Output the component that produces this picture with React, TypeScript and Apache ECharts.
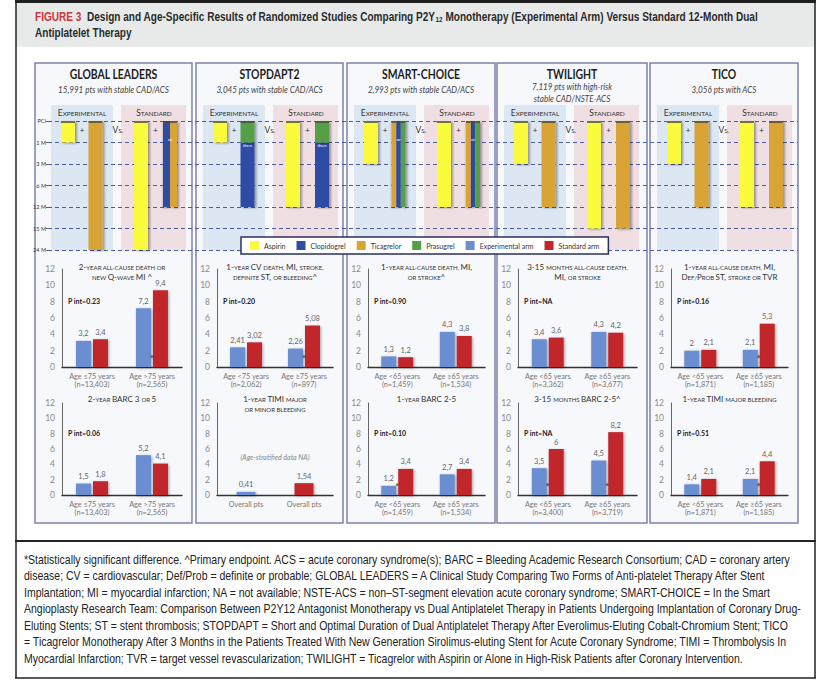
import React, { useEffect, useRef } from "react";
import * as echarts from "echarts";

// ---------------- DATA ----------------
const durations = ["PCI", "1 M", "3 M", "6 M", "12 M", "15 M", "24 M"];
const trialNames = ["GLOBAL LEADERS", "STOPDAPT2", "SMART-CHOICE", "TWILIGHT", "TICO"];
const trialPopulations = [
  "15,991 pts with stable CAD/ACS",
  "3,045 pts with stable CAD/ACS",
  "2,993 pts with stable CAD/ACS",
  "7,119 pts with high-risk\nstable CAD/NSTE-ACS",
  "3,056 pts with ACS",
];
const drugNames = ["Aspirin", "Clopidogrel", "Ticagrelor", "Prasugrel"];
// [trial, slot (0-1 experimental, 2-3 standard), drug, fromDuration, toDuration, part, parts]
const regimenSegments = [
  [0, 0, 0, 0, 1, 0, 1],
  [0, 1, 2, 0, 6, 0, 1],
  [0, 2, 0, 0, 6, 0, 1],
  [0, 3, 1, 0, 4, 0, 2],
  [0, 3, 2, 0, 4, 1, 2],
  [1, 0, 0, 0, 1, 0, 1],
  [1, 1, 3, 0, 1, 0, 1],
  [1, 1, 1, 1, 4, 0, 1],
  [1, 2, 0, 0, 4, 0, 1],
  [1, 3, 3, 0, 1, 0, 1],
  [1, 3, 1, 1, 4, 0, 1],
  [2, 0, 0, 0, 2, 0, 1],
  [2, 1, 2, 0, 4, 0, 3],
  [2, 1, 1, 0, 4, 1, 3],
  [2, 1, 3, 0, 4, 2, 3],
  [2, 2, 0, 0, 4, 0, 1],
  [2, 3, 2, 0, 4, 0, 3],
  [2, 3, 1, 0, 4, 1, 3],
  [2, 3, 3, 0, 4, 2, 3],
  [3, 0, 0, 0, 2, 0, 1],
  [3, 1, 2, 0, 4, 0, 1],
  [3, 2, 0, 0, 5, 0, 1],
  [3, 3, 2, 0, 5, 0, 1],
  [4, 0, 0, 0, 2, 0, 1],
  [4, 1, 2, 0, 4, 0, 1],
  [4, 2, 0, 0, 4, 0, 1],
  [4, 3, 2, 0, 4, 0, 1],
];
const noteWords = ["or", "then"];
// [trial, slot, word]
const regimenNotes = [
  [0, 3, 0],
  [1, 1, 1],
  [1, 3, 1],
  [2, 1, 0],
  [2, 3, 0],
];

const glCats = ["Age ≤75 years\n(n=13,403)", "Age >75 years\n(n=2,565)"];
const glDeathExp = [3.2, 7.2];
const glDeathStd = [3.4, 9.4];
const glBleedExp = [1.5, 5.2];
const glBleedStd = [1.8, 4.1];

const sdCats = ["Age <75 years\n(n=2,062)", "Age ≥75 years\n(n=897)"];
const sdDeathExp = [2.41, 2.26];
const sdDeathStd = [3.02, 5.08];
const sdBleedCats = ["Overall pts", "Overall pts"];
const sdBleedExp: (number | string)[] = [0.41, "-"];
const sdBleedStd: (number | string)[] = ["-", 1.54];

const scCats = ["Age <65 years\n(n=1,459)", "Age ≥65 years\n(n=1,534)"];
const scDeathExp = [1.3, 4.3];
const scDeathStd = [1.2, 3.8];
const scBleedExp = [1.2, 2.7];
const scBleedStd = [3.4, 3.4];

const twDeathCats = ["Age <65 years\n(n=3,362)", "Age ≥65 years\n(n=3,677)"];
const twDeathExp = [3.4, 4.3];
const twDeathStd = [3.6, 4.2];
const twBleedCats = ["Age <65 years\n(n=3,400)", "Age ≥65 years\n(n=3,719)"];
const twBleedExp = [3.5, 4.5];
const twBleedStd = [6, 8.2];

const ticoCats = ["Age <65 years\n(n=1,871)", "Age ≥65 years\n(n=1,185)"];
const ticoDeathExp = [2, 2.1];
const ticoDeathStd = [2.1, 5.3];
const ticoBleedExp = [1.4, 2.1];
const ticoBleedStd = [2.1, 4.4];

const pInts = ["0.23", "0.06", "0.20", "", "0.90", "0.10", "NA", "NA", "0.16", "0.51"];
const sigMarks = [[1], [], [1], [], [], [0], [], [0, 1], [1], [1]];
const endpointTitles = [
  "{b|2-}{s|YEAR ALL-CAUSE DEATH OR}\n{s|NEW }{b|Q-}{s|WAVE }{b|MI ^}",
  "{b|2-}{s|YEAR }{b|BARC 3 }{s|OR }{b|5}",
  "{b|1-}{s|YEAR }{b|CV }{s|DEATH, }{b|MI, }{s|STROKE,}\n{s|DEFINITE }{b|ST, }{s|OR BLEEDING}{b|^}",
  "{b|1-}{s|YEAR }{b|TIMI }{s|MAJOR}\n{s|OR MINOR BLEEDING}",
  "{b|1-}{s|YEAR ALL-CAUSE DEATH, }{b|MI,}\n{s|OR STROKE}{b|^}",
  "{b|1-}{s|YEAR }{b|BARC 2-5}",
  "{b|3-15 }{s|MONTHS ALL-CAUSE DEATH,}\n{b|MI, }{s|OR STROKE}",
  "{b|3-15 }{s|MONTHS }{b|BARC 2-5^}",
  "{b|1-}{s|YEAR ALL-CAUSE DEATH, }{b|MI,}\n{b|D}{s|EF/}{b|P}{s|ROB }{b|ST, }{s|STROKE OR }{b|TVR}",
  "{b|1-}{s|YEAR }{b|TIMI }{s|MAJOR BLEEDING}",
];
const figureLabel = "FIGURE 3";
const figureTitleA = "Design and Age-Specific Results of Randomized Studies Comparing P2Y";
const figureTitleSub = "12";
const figureTitleB = " Monotherapy (Experimental Arm) Versus Standard 12-Month Dual";
const figureTitleLine2 = "Antiplatelet Therapy";
const footnoteLines = [
  "*Statistically significant difference. ^Primary endpoint. ACS = acute coronary syndrome(s); BARC = Bleeding Academic Research Consortium; CAD = coronary artery",
  "disease; CV = cardiovascular; Def/Prob = definite or probable; GLOBAL LEADERS = A Clinical Study Comparing Two Forms of Anti-platelet Therapy After Stent",
  "Implantation; MI = myocardial infarction; NA = not available; NSTE-ACS = non–ST-segment elevation acute coronary syndrome; SMART-CHOICE = In the Smart",
  "Angioplasty Research Team: Comparison Between P2Y12 Antagonist Monotherapy vs Dual Antiplatelet Therapy in Patients Undergoing Implantation of Coronary Drug-",
  "Eluting Stents; ST = stent thrombosis; STOPDAPT = Short and Optimal Duration of Dual Antiplatelet Therapy After Everolimus-Eluting Cobalt-Chromium Stent; TICO",
  "= Ticagrelor Monotherapy After 3 Months in the Patients Treated With New Generation Sirolimus-eluting Stent for Acute Coronary Syndrome; TIMI = Thrombolysis In",
  "Myocardial Infarction; TVR = target vessel revascularization; TWILIGHT = Ticagrelor with Aspirin or Alone in High-Risk Patients after Coronary Intervention.",
];

// ---------------- STYLE / LAYOUT ----------------
const FONT = "Lato, 'Open Sans', 'DejaVu Sans', sans-serif";
const TEXT_FONT = "'Liberation Sans', Arial, sans-serif";
const drugColors = ["#fbfb3c", "#2f4ba6", "#d8a434", "#55a047"];
const EXP_COLOR = "#6b8ed0";
const STD_COLOR = "#c0282c";
const panels = [
  { x: 35, w: 157 },
  { x: 196, w: 147 },
  { x: 347, w: 148 },
  { x: 497, w: 150 },
  { x: 650, w: 148 },
];
const slotCenters = [24, 51.5, 97, 126];
const BAR_W = 14;
const contentLeft = (i: number) => panels[i].x + (i === 0 ? 9 : 0);
const axisLeft = (i: number) => panels[i].x + (i === 0 ? 27 : 21);
const plotRight = (i: number) => panels[i].x + panels[i].w - 10;
const rowTop = [269, 403];
const rowHeight = [98, 92];

const chartDefs = [
  { trial: 0, row: 0, cats: glCats, exp: glDeathExp, std: glDeathStd },
  { trial: 0, row: 1, cats: glCats, exp: glBleedExp, std: glBleedStd },
  { trial: 1, row: 0, cats: sdCats, exp: sdDeathExp, std: sdDeathStd },
  { trial: 1, row: 1, cats: sdBleedCats, exp: sdBleedExp, std: sdBleedStd, overall: true },
  { trial: 2, row: 0, cats: scCats, exp: scDeathExp, std: scDeathStd },
  { trial: 2, row: 1, cats: scCats, exp: scBleedExp, std: scBleedStd },
  { trial: 3, row: 0, cats: twDeathCats, exp: twDeathExp, std: twDeathStd },
  { trial: 3, row: 1, cats: twBleedCats, exp: twBleedExp, std: twBleedStd },
  { trial: 4, row: 0, cats: ticoCats, exp: ticoDeathExp, std: ticoDeathStd },
  { trial: 4, row: 1, cats: ticoCats, exp: ticoBleedExp, std: ticoBleedStd },
];

const fmt = (p: any) => String(p.value).replace(".", ",");

function measure(text: string, font: string) {
  const ctx = document.createElement("canvas").getContext("2d");
  if (!ctx) return text.length * 6;
  ctx.font = font;
  return ctx.measureText(text).width;
}

function buildOption() {
  const grids: any[] = [{ left: 48, top: 121, width: 750, height: 129 }];
  const xAxes: any[] = [{ type: "value", gridIndex: 0, min: 0, max: 1, show: false }];
  const yAxes: any[] = [
    {
      type: "category",
      gridIndex: 0,
      data: durations,
      inverse: true,
      boundaryGap: false,
      axisLine: { show: false },
      axisTick: { show: true, length: 2, interval: 0, lineStyle: { color: "#444", width: 0.8 } },
      axisLabel: { interval: 0, fontSize: 5.5, color: "#333", margin: 2, fontFamily: FONT },
      splitLine: { show: true, interval: 0, lineStyle: { type: [4, 3], color: "#4d5ba0", width: 1 } },
    },
  ];
  const series: any[] = [];

  drugNames.forEach((name, d) => {
    series.push({
      name,
      type: "custom",
      xAxisIndex: 0,
      yAxisIndex: 0,
      itemStyle: { color: drugColors[d] },
      encode: { x: 4, y: 2 },
      data: regimenSegments.filter((s) => s[2] === d).map((s) => [s[0], s[1], s[3], s[4], s[5], s[6]]),
      renderItem: (params: any, api: any) => {
        const t = api.value(0);
        const slot = api.value(1);
        const from = api.value(2);
        const to = api.value(3);
        const part = api.value(4);
        const parts = api.value(5);
        const cx = contentLeft(t) + slotCenters[slot];
        const w = BAR_W / parts;
        const x = cx - BAR_W / 2 + part * w;
        const y0 = api.coord([0, from])[1];
        const y1 = api.coord([0, to])[1];
        const children: any[] = [
          {
            type: "rect",
            shape: { x, y: y0, width: w, height: y1 - y0 },
            style: {
              fill: drugColors[d],
              shadowBlur: 2,
              shadowColor: "rgba(0,0,0,0.35)",
              shadowOffsetX: part === parts - 1 ? 2 : 0,
              shadowOffsetY: 1,
            },
          },
        ];
        if (from === 0) {
          children.push({
            type: "rect",
            shape: { x, y: y0, width: w, height: 2 },
            style: { fill: "rgba(70,70,55,0.75)" },
          });
        }
        return { type: "group", children };
      },
    });
  });

  series.push({
    type: "custom",
    xAxisIndex: 0,
    yAxisIndex: 0,
    z: 4,
    encode: { x: 2, y: 1 },
    data: regimenNotes,
    renderItem: (params: any, api: any) => {
      const t = api.value(0);
      const slot = api.value(1);
      const k = api.value(2);
      const cx = contentLeft(t) + slotCenters[slot];
      const y1 = api.coord([0, 1])[1];
      return {
        type: "text",
        x: cx,
        y: k === 0 ? y1 - 3 : y1 + 3,
        style: {
          text: noteWords[k],
          align: "center",
          verticalAlign: "middle",
          fontSize: 4.5,
          fontFamily: FONT,
          fill: "#ffffff",
        },
      };
    },
  });

  const elements: any[] = [];
  // frame
  elements.push({ type: "rect", z: -20, shape: { x: 16, y: 2, width: 799, height: 45 }, style: { fill: "#e8eaea" } });
  elements.push({ type: "rect", z: -19, shape: { x: 15, y: 0, width: 801, height: 3 }, style: { fill: "#1f1f1f" } });
  elements.push({ type: "line", z: -19, shape: { x1: 16, y1: 0, x2: 16, y2: 678 }, style: { stroke: "#222", lineWidth: 1.5 } });
  elements.push({ type: "line", z: -19, shape: { x1: 815, y1: 0, x2: 815, y2: 678 }, style: { stroke: "#222", lineWidth: 1.5 } });
  elements.push({ type: "line", z: -19, shape: { x1: 15, y1: 541, x2: 816, y2: 541 }, style: { stroke: "#222", lineWidth: 2 } });
  elements.push({ type: "line", z: -19, shape: { x1: 15, y1: 678, x2: 816, y2: 678 }, style: { stroke: "#222", lineWidth: 1.5 } });

  // figure title, condensed horizontally to the reference width
  const titleFont = "bold 12px " + TEXT_FONT;
  const titleW =
    measure(figureLabel + "  " + figureTitleA + figureTitleB, titleFont) + measure(figureTitleSub, "bold 7.5px " + TEXT_FONT);
  const titleScale = 723 / titleW;
  elements.push({
    type: "text",
    z: 50,
    x: 35,
    y: 9,
    scaleX: titleScale,
    style: {
      text: `{r|${figureLabel}}{t|  ${figureTitleA}}{sub|${figureTitleSub}}{t|${figureTitleB}}\n{t|${figureTitleLine2}}`,
      rich: {
        r: { fontFamily: TEXT_FONT, fontWeight: "bold", fontSize: 12, fill: "#c8363b", lineHeight: 16 },
        t: { fontFamily: TEXT_FONT, fontWeight: "bold", fontSize: 12, fill: "#2a2a2a", lineHeight: 16 },
        sub: { fontFamily: TEXT_FONT, fontWeight: "bold", fontSize: 7.5, fill: "#2a2a2a", lineHeight: 16, padding: [5, 0, 0, 0] },
      },
    },
  });

  const footFont = "12.5px " + TEXT_FONT;
  const footScale = 768 / measure(footnoteLines[0], footFont);
  elements.push({
    type: "text",
    z: 50,
    x: 24,
    y: 551,
    scaleX: footScale,
    style: {
      text: footnoteLines.join("\n"),
      fontFamily: TEXT_FONT,
      fontSize: 12.5,
      lineHeight: 16.5,
      fill: "#222",
    },
  });

  // trial titles: condensed like the reference's narrow bold face
  const trialFont = "bold 13.5px Lato";
  const trialScale = 88 / measure(trialNames[0], trialFont);
  const popFont = "italic 9px Lato";
  const popScale = 111 / measure(trialPopulations[0], popFont);

  panels.forEach((p, i) => {
    elements.push({
      type: "rect",
      z: -10,
      shape: { x: p.x, y: 63, width: p.w, height: 460 },
      style: { fill: "#f7f8fb", stroke: "#7d83ad", lineWidth: 1.5 },
    });
    const cl = contentLeft(i);
    elements.push({ type: "rect", z: -9, shape: { x: cl + 7, y: 105, width: 62, height: 145 }, style: { fill: "#dde7f4" } });
    elements.push({ type: "rect", z: -9, shape: { x: cl + 77, y: 105, width: 65, height: 145 }, style: { fill: "#efdfe2" } });
    const sc = { b: { fontSize: 8.5, fontFamily: FONT, fill: "#333" }, s: { fontSize: 6.5, fontFamily: FONT, fill: "#333" } };
    elements.push({
      type: "text", z: 50, x: cl + 38, y: 113,
      style: { text: "{b|E}{s|XPERIMENTAL}", align: "center", verticalAlign: "middle", rich: sc },
    });
    elements.push({
      type: "text", z: 50, x: cl + 110, y: 113,
      style: { text: "{b|S}{s|TANDARD}", align: "center", verticalAlign: "middle", rich: sc },
    });
    elements.push({
      type: "text", z: 50, x: cl + 38, y: 130,
      style: { text: "+", align: "center", verticalAlign: "middle", fontSize: 8, fontFamily: FONT, fill: "#333" },
    });
    elements.push({
      type: "text", z: 50, x: cl + 111.5, y: 130,
      style: { text: "+", align: "center", verticalAlign: "middle", fontSize: 8, fontFamily: FONT, fill: "#333" },
    });
    elements.push({
      type: "text", z: 50, x: cl + 74, y: 130,
      style: { text: "{b|V}{s|S.}", align: "center", verticalAlign: "middle", rich: sc },
    });
    elements.push({
      type: "text", z: 50, x: p.x + p.w / 2, y: 67, scaleX: trialScale,
      style: {
        text: trialNames[i], align: "center", verticalAlign: "top",
        fontSize: 13.5, fontWeight: "bold", fontFamily: "Lato", fill: "#1d1d1d",
      },
    });
    elements.push({
      type: "text", z: 50, x: p.x + p.w / 2, y: i === 3 ? 81 : 84, scaleX: popScale,
      style: {
        text: trialPopulations[i], align: "center", verticalAlign: "top",
        fontSize: 9, fontStyle: "italic", fontFamily: "Lato", fill: "#444", lineHeight: 12,
      },
    });
  });

  chartDefs.forEach((c, k) => {
    const gi = k + 1;
    const left = axisLeft(c.trial);
    const right = plotRight(c.trial);
    grids.push({ left, top: rowTop[c.row], width: right - left, height: rowHeight[c.row] });
    xAxes.push({
      type: "category",
      gridIndex: gi,
      data: c.cats,
      axisTick: { show: false },
      axisLine: { lineStyle: { color: "#333", width: 1.3 } },
      axisLabel: { interval: 0, fontSize: 7.3, color: "#777", lineHeight: 8.5, margin: 5, fontFamily: FONT },
    });
    yAxes.push({
      type: "value",
      gridIndex: gi,
      min: 0,
      max: 12,
      interval: 2,
      axisLine: { show: true, lineStyle: { color: "#666", width: 1 } },
      axisTick: { show: false },
      splitLine: { show: false },
      axisLabel: { fontSize: 8.5, color: "#8a8a8a", margin: 7, fontFamily: FONT },
    });
    const common = {
      type: "bar",
      xAxisIndex: gi,
      yAxisIndex: gi,
      barWidth: c.overall ? 19 : 15,
      barGap: "13%",
      stack: c.overall ? "overall" + k : undefined,
      label: {
        show: true, position: "top", distance: 3, fontSize: 7.5, color: "#666",
        fontFamily: FONT, formatter: fmt,
      },
    };
    series.push({
      ...common,
      name: "Experimental arm",
      data: c.exp,
      itemStyle: { color: EXP_COLOR, shadowBlur: 3, shadowColor: "rgba(0,0,0,0.35)", shadowOffsetX: 1, shadowOffsetY: 1 },
    });
    series.push({
      ...common,
      name: "Standard arm",
      data: c.std,
      itemStyle: { color: STD_COLOR, shadowBlur: 3, shadowColor: "rgba(0,0,0,0.35)", shadowOffsetX: 1, shadowOffsetY: 1 },
    });
    if (sigMarks[k].length) {
      series.push({
        type: "scatter",
        xAxisIndex: gi,
        yAxisIndex: gi,
        z: 6,
        silent: true,
        symbolSize: 1,
        itemStyle: { color: "rgba(0,0,0,0)" },
        data: sigMarks[k].map((ci) => [ci, 1.45]),
        label: {
          show: true, formatter: "*", position: "inside", fontSize: 9, fontWeight: "bold",
          color: "#1a1a1a", offset: [0, 3],
        },
      });
    }
    const cx = (left + right) / 2;
    const rich = {
      b: { fontSize: 8, fontFamily: FONT, fill: "#333", lineHeight: 10 },
      s: { fontSize: 6, fontFamily: FONT, fill: "#333", lineHeight: 10 },
    };
    elements.push({
      type: "text", z: 50, x: cx, y: c.row === 0 ? 262 : 394,
      style: { text: endpointTitles[k], align: "center", verticalAlign: "top", rich },
    });
    if (pInts[k]) {
      elements.push({
        type: "text", z: 50, x: left + 6, y: c.row === 0 ? 301 : 433,
        style: {
          text: "P int=" + pInts[k], verticalAlign: "middle", fontSize: 7, fontWeight: "bold",
          fontFamily: FONT, fill: "#222",
        },
      });
    }
    if (c.overall) {
      elements.push({
        type: "text", z: 50, x: cx, y: 457,
        style: {
          text: "(Age-stratified data NA)", align: "center", verticalAlign: "middle", fontSize: 7,
          fontStyle: "italic", fontFamily: FONT, fill: "#888",
        },
      });
    }
  });

  return {
    animation: false,
    backgroundColor: "#ffffff",
    textStyle: { fontFamily: FONT },
    legend: {
      data: ["Aspirin", "Clopidogrel", "Ticagrelor", "Prasugrel", "Experimental arm", "Standard arm"],
      left: 241,
      top: 237,
      icon: "rect",
      itemWidth: 9,
      itemHeight: 9,
      itemGap: 11,
      padding: [4, 9],
      selectedMode: false,
      backgroundColor: "#ffffff",
      borderColor: "#2b2f5e",
      borderWidth: 1.5,
      textStyle: { fontSize: 7, color: "#333", fontFamily: FONT },
    },
    grid: grids,
    xAxis: xAxes,
    yAxis: yAxes,
    series,
    graphic: { elements },
  };
}

export default function App() {
  const ref = useRef<HTMLDivElement>(null);
  useEffect(() => {
    const chart = echarts.init(ref.current as HTMLDivElement, null, { renderer: "svg" });
    chart.setOption(buildOption() as any);
    return () => chart.dispose();
  }, []);
  return (
    <div
      ref={ref}
      style={{ position: "fixed", left: 0, top: 0, width: 828, height: 696, background: "#fff" }}
    />
  );
}
